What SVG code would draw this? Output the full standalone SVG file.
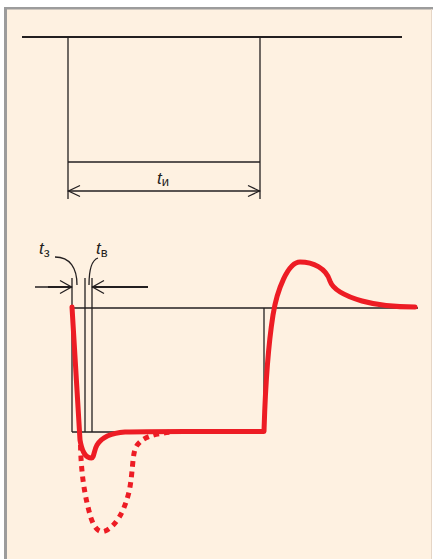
<svg xmlns="http://www.w3.org/2000/svg" width="433" height="559" viewBox="0 0 433 559">
  <style>
    .ln { stroke: #231F20; stroke-width: 1.3; fill: none; }
    .thick { stroke: #231F20; stroke-width: 2; fill: none; }
    .red { stroke: #ED1C24; stroke-width: 5; fill: none; stroke-linejoin: round; stroke-linecap: round; }
    .dot { stroke: #ED1C24; stroke-width: 5; fill: none; stroke-dasharray: 5.5 5; }
    .lbl { font-family: "Liberation Sans", Arial, sans-serif; fill: #231F20; }
    .it { font-style: italic; font-size: 17px; }
    .sub { font-size: 13px; }
  </style>
  <rect x="0" y="0" width="433" height="559" fill="#FFFFFF"/>
  <rect x="4" y="7" width="428" height="552" fill="#FEF1E1"/>
  <rect x="4" y="7" width="3" height="552" fill="#9C9C9C"/>
  <rect x="4" y="7" width="429" height="2.5" fill="#9C9C9C"/>
  <line x1="431.5" y1="9" x2="431.5" y2="559" stroke="#E6D6C6" stroke-width="1"/>

  <g id="pulse-top">
    <line class="thick" x1="22" y1="37" x2="402" y2="37"/>
    <line class="ln" x1="68" y1="37" x2="68" y2="199"/>
    <line class="ln" x1="260" y1="37" x2="260" y2="199"/>
    <line class="ln" x1="68" y1="162" x2="260" y2="162"/>
  </g>

  <g id="dim-ti">
    <line class="ln" x1="68" y1="191" x2="260" y2="191"/>
    <polyline class="ln" points="80,185.5 68.5,191 80,196.5"/>
    <polyline class="ln" points="248,185.5 259.5,191 248,196.5"/>
    <text class="lbl" x="157" y="184"><tspan class="it">t</tspan><tspan class="sub" dy="2">и</tspan></text>
  </g>

  <g id="pulse-bottom">
    <line class="ln" x1="72" y1="308" x2="418" y2="308"/>
    <line class="ln" x1="72" y1="278" x2="72" y2="432"/>
    <line class="ln" x1="85" y1="278" x2="85" y2="432"/>
    <line class="ln" x1="92" y1="278" x2="92" y2="432"/>
    <line class="ln" x1="264" y1="308" x2="264" y2="432"/>
    <line class="ln" x1="72" y1="432" x2="264" y2="432"/>
  </g>

  <g id="dim-tz-tv">
    <line class="ln" x1="35" y1="287" x2="72" y2="287"/>
    <line class="thick" x1="48" y1="287" x2="72" y2="287" stroke-width="1.6"/>
    <line class="thick" x1="92" y1="287" x2="148" y2="287" stroke-width="1.6"/>
    <polyline class="ln" points="60,280.5 71.5,287 60,293.5"/>
    <polyline class="ln" points="104,280.5 92.5,287 104,293.5"/>
    <path class="ln" d="M55,257 C70,257 77,268 77,285"/>
    <path class="ln" d="M98,258 C92,260 89,270 89,285"/>
    <text class="lbl" x="39" y="254"><tspan class="it">t</tspan><tspan class="sub" dy="3">з</tspan></text>
    <text class="lbl" x="96" y="254"><tspan class="it">t</tspan><tspan class="sub" dy="3">в</tspan></text>
  </g>

  <g id="signal">
    <path class="dot" d="M80.5,445 C81,470 84,495 91,518 C95,530 100,533 105,531 C116,526 124,512 129,492 C133,474 132,455 136,447 C141,438 152,434 172,432"/>
    <path class="red" d="M72,307 L80,440 C82,452 86,458 91.5,458 C94,458 94,450 97,445 C102,437 110,433 125,432 C150,431 180,431.5 264,431.5 C265,400 266,360 273,315 C277,290 288,262 300,262 C313,262 326,268 330,281 C333,290 345,296 362,301 C380,306 398,307 415,307"/>
  </g>
</svg>
